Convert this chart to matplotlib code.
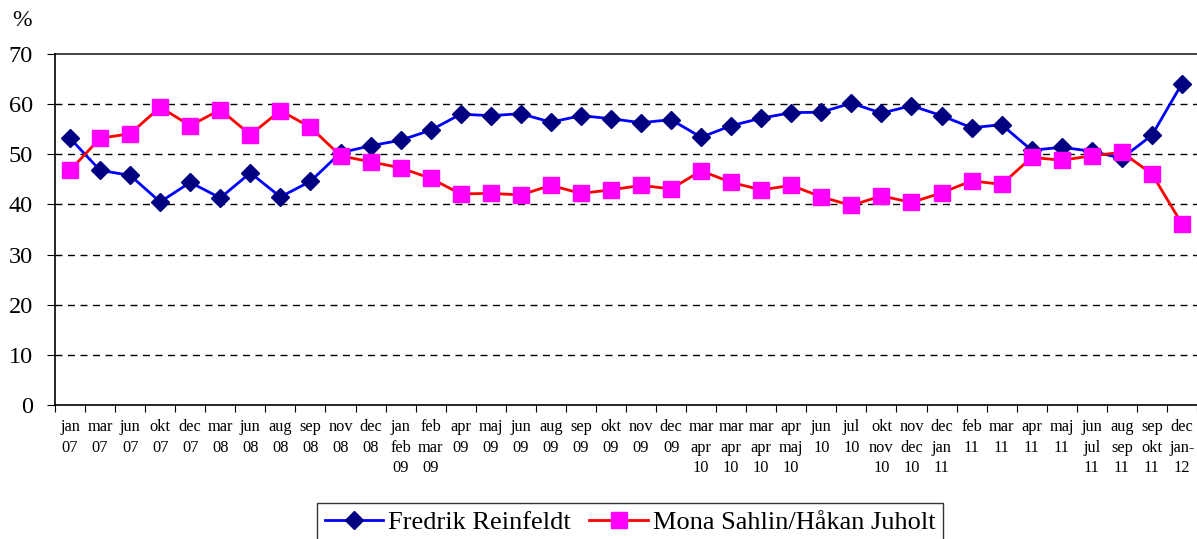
import matplotlib
matplotlib.use("Agg")
import matplotlib.pyplot as plt
import numpy as np

categories = ["jan\n07", "mar\n07", "jun\n07", "okt\n07", "dec\n07", "mar\n08", "jun\n08",
              "aug\n08", "sep\n08", "nov\n08", "dec\n08", "jan\nfeb\n09", "feb\nmar\n09",
              "apr\n09", "maj\n09", "jun\n09", "aug\n09", "sep\n09", "okt\n09", "nov\n09",
              "dec\n09", "mar\napr\n10", "mar\napr\n10", "mar\napr\n10", "apr\nmaj\n10",
              "jun\n10", "jul\n10", "okt\nnov\n10", "nov\ndec\n10", "dec\njan\n11",
              "feb\n11", "mar\n11", "apr\n11", "maj\n11", "jun\njul\n11", "aug\nsep\n11",
              "sep\nokt\n11", "dec\njan-\n12"]

reinfeldt = [53.2, 46.8, 45.8, 40.5, 44.4, 41.3, 46.3, 41.5, 44.6, 50.3, 51.7, 52.8, 54.8,
             58.0, 57.7, 58.1, 56.4, 57.7, 57.1, 56.3, 56.9, 53.4, 55.7, 57.2, 58.3,
             58.4, 60.2, 58.2, 59.7, 57.7, 55.3, 55.9, 50.8, 51.4, 50.6, 49.2, 53.8, 64.1]

sahlin_juholt = [46.8, 53.2, 54.1, 59.4, 55.7, 58.9, 53.9, 58.7, 55.4, 49.7, 48.5, 47.3, 45.2,
                 42.1, 42.2, 41.9, 43.8, 42.2, 42.9, 43.8, 43.1, 46.7, 44.4, 42.9, 43.8,
                 41.5, 39.8, 41.7, 40.4, 42.3, 44.7, 44.0, 49.4, 48.8, 49.7, 50.4, 46.1, 36.1]

series_names = ["Fredrik Reinfeldt", "Mona Sahlin/Håkan Juholt"]
yticks = [0, 10, 20, 30, 40, 50, 60, 70]

plt.rcParams['font.family'] = ['Liberation Serif', 'DejaVu Serif']

fig = plt.figure(figsize=(11.97, 5.39), dpi=100)
ax = fig.add_axes([55/1197, 1 - 405/539, (1197-55)/1197, (405-54)/539])

x = np.arange(len(categories))
ax.plot(x, reinfeldt, color="#0000FF", lw=2, marker="D", markersize=9,
        markerfacecolor="#000080", markeredgecolor="#000080", label=series_names[0], zorder=3)
ax.plot(x, sahlin_juholt, color="#FF0000", lw=2, marker="s", markersize=11,
        markerfacecolor="#FF00FF", markeredgecolor="#FF00FF", label=series_names[1], zorder=3)

ax.set_xlim(-0.5, len(categories) - 0.5)
ax.set_ylim(0, 70)
ax.set_yticks(yticks)
ax.set_yticklabels([str(v) for v in yticks], fontsize=17.5)
for v in yticks[1:-1]:
    ax.axhline(v, color="black", lw=1, ls=(0, (5, 4)), zorder=1)
ax.axhline(70, color="#222222", lw=1.2, zorder=1, clip_on=False)

ax.set_xticks(x)
ax.set_xticklabels(categories, fontsize=11.8, linespacing=1.4, va="top")
ax.set_xticks(np.arange(-0.5, len(categories), 1), minor=True)
ax.tick_params(axis="x", which="major", length=0, pad=10)
ax.tick_params(axis="x", which="minor", length=5, direction="out", width=0.8)
ax.tick_params(axis="y", length=6, direction="out", width=0.8, pad=10)

for s in ["top", "right"]:
    ax.spines[s].set_visible(False)
ax.spines["left"].set_linewidth(1.2)
ax.spines["bottom"].set_linewidth(1.2)

fig.text(12/1197, 1 - 21/539, "%", fontsize=17, va="center", ha="left")

leg = fig.legend(loc="upper left", bbox_to_anchor=(317/1197, 1 - 503/539), ncol=2, fontsize=19,
                 frameon=True, fancybox=False, edgecolor="black", handlelength=2.2,
                 handletextpad=0.2, columnspacing=0.7, borderpad=0.3, borderaxespad=0)
leg.get_frame().set_linewidth(1.0)

fig.savefig("out.png", dpi=100)
